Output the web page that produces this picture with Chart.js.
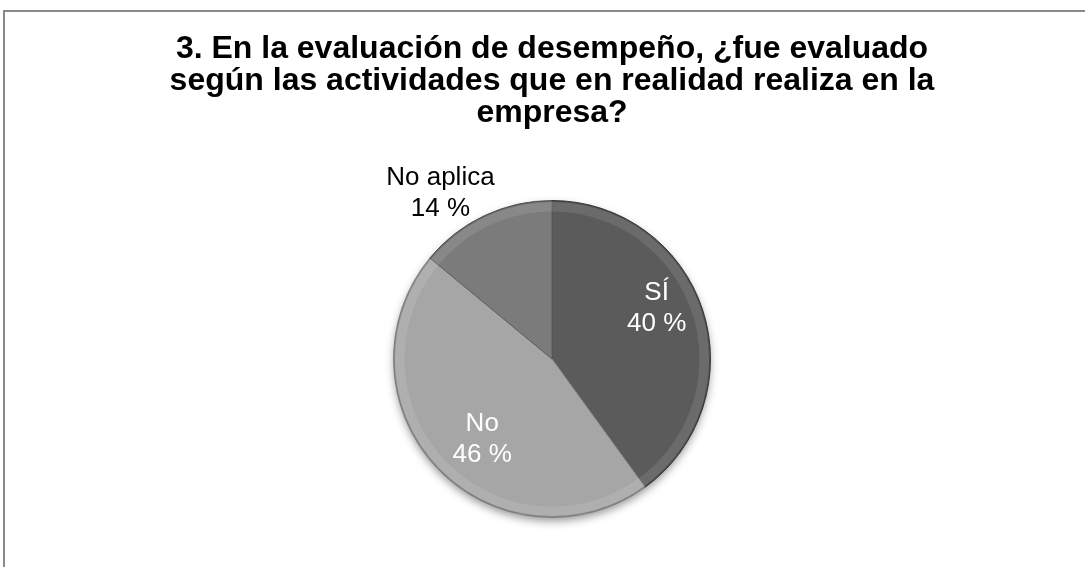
<!DOCTYPE html>
<html>
<head>
<meta charset="utf-8">
<script src="https://cdn.jsdelivr.net/npm/chart.js@4/dist/chart.umd.min.js"></script>
<style>
  html, body { margin: 0; padding: 0; background: #fff; }
  #wrap { width: 1085px; height: 567px; position: relative; }
</style>
</head>
<body>
<div id="wrap"><canvas id="c" width="1085" height="567"></canvas></div>
<script>
// Survey answers (percent)
const categories = ['SÍ', 'No', 'No aplica'];
const values = [40, 46, 14];
const titleLines = [
  '3. En la evaluación de desempeño, ¿fue evaluado',
  'según las actividades que en realidad realiza en la',
  'empresa?'
];

// Slice styling
const sliceColors = ['#5b5b5b', '#a6a6a6', '#7b7b7b'];
const sliceEdges = ['#3e3e3e', '#8a8a8a', '#5e5e5e'];
// label placement: radial fraction of radius, angular shift (deg), text colour
const labelPlacement = [
  { r: 0.734, shift: -7.9, color: '#ffffff' },
  { r: 0.671, shift: -5.8, color: '#ffffff' },
  { r: 1.262, shift: -8.7, color: '#000000' }
];

const FONT = '"Liberation Sans", Arial, sans-serif';

// outer frame of the chart area
const framePlugin = {
  id: 'frame',
  beforeDraw(chart) {
    const ctx = chart.ctx;
    ctx.save();
    ctx.strokeStyle = '#8a8a8a';
    ctx.lineWidth = 2;
    ctx.strokeRect(4, 11, 1200, 700);
    ctx.restore();
  }
};

// soft drop shadow under the pie and a light bevel rim on each slice
const depthPlugin = {
  id: 'depth',
  beforeDatasetsDraw(chart) {
    const arc = chart.getDatasetMeta(0).data[0];
    if (!arc) return;
    const ctx = chart.ctx;
    ctx.save();
    ctx.shadowColor = 'rgba(0,0,0,0.45)';
    ctx.shadowBlur = 10;
    ctx.shadowOffsetY = 4;
    ctx.fillStyle = '#999';
    ctx.beginPath();
    ctx.arc(arc.x, arc.y, arc.outerRadius - 1, 0, Math.PI * 2);
    ctx.fill();
    ctx.restore();
  },
  afterDatasetsDraw(chart) {
    const ctx = chart.ctx;
    chart.getDatasetMeta(0).data.forEach((a) => {
      ctx.save();
      ctx.beginPath();
      ctx.moveTo(a.x, a.y);
      ctx.arc(a.x, a.y, a.outerRadius, a.startAngle, a.endAngle);
      ctx.closePath();
      ctx.clip();
      ctx.lineWidth = 10;
      ctx.strokeStyle = 'rgba(255,255,255,0.10)';
      ctx.beginPath();
      ctx.arc(a.x, a.y, a.outerRadius - 6, 0, Math.PI * 2);
      ctx.stroke();
      ctx.lineWidth = 2;
      ctx.strokeStyle = 'rgba(0,0,0,0.18)';
      ctx.beginPath();
      ctx.arc(a.x, a.y, a.outerRadius - 0.5, 0, Math.PI * 2);
      ctx.stroke();
      ctx.restore();
    });
  }
};

// category and percent labels
const labelPlugin = {
  id: 'sliceLabels',
  afterDatasetsDraw(chart) {
    const ctx = chart.ctx;
    const ds = chart.data.datasets[0];
    chart.getDatasetMeta(0).data.forEach((a, i) => {
      const p = labelPlacement[i];
      const mid = (a.startAngle + a.endAngle) / 2 + p.shift * Math.PI / 180;
      const x = a.x + Math.cos(mid) * a.outerRadius * p.r;
      const y = a.y + Math.sin(mid) * a.outerRadius * p.r;
      ctx.save();
      ctx.font = '26px ' + FONT;
      ctx.fillStyle = p.color;
      ctx.textAlign = 'center';
      ctx.textBaseline = 'middle';
      ctx.fillText(chart.data.labels[i], x, y - 15.5);
      ctx.fillText(ds.data[i] + ' %', x, y + 15.5);
      ctx.restore();
    });
  }
};

new Chart(document.getElementById('c'), {
  type: 'pie',
  data: {
    labels: categories,
    datasets: [{
      data: values,
      backgroundColor: sliceColors,
      borderColor: sliceEdges,
      borderWidth: 1
    }]
  },
  options: {
    responsive: false,
    animation: false,
    layout: { padding: { left: 19, right: 0, top: 0, bottom: 49 } },
    plugins: {
      legend: { display: false },
      tooltip: { enabled: false },
      title: {
        display: true,
        text: titleLines,
        color: '#000',
        font: { family: FONT, size: 32, weight: 'bold', lineHeight: 1.0 },
        padding: { top: 33, bottom: 71 }
      }
    }
  },
  plugins: [framePlugin, depthPlugin, labelPlugin]
});
</script>
</body>
</html>
